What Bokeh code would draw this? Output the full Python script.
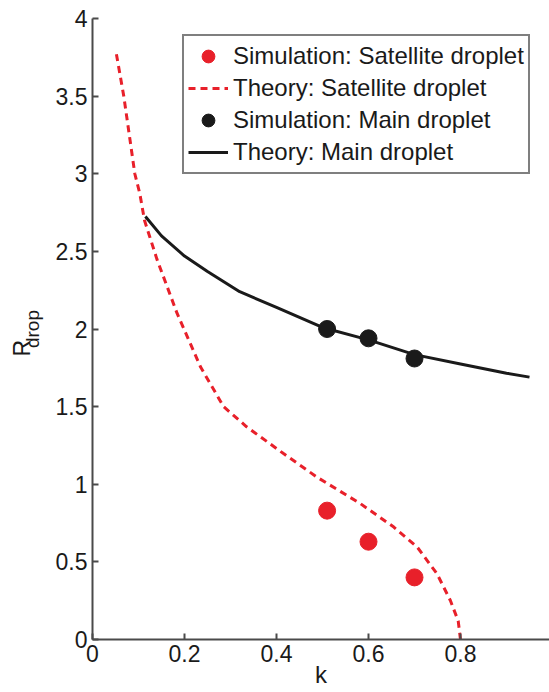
from bokeh.plotting import figure
from bokeh.models import Legend, LegendItem, Title, FixedTicker, Range1d
from bokeh.embed import file_html
from bokeh.resources import INLINE

# ---------------- data ----------------
sim_k = [0.51, 0.60, 0.70]
sat_sim_R = [0.83, 0.63, 0.40]
main_sim_R = [2.00, 1.94, 1.81]

main_theory_k = [0.115, 0.15, 0.20, 0.25, 0.32, 0.40, 0.50, 0.60, 0.70, 0.80, 0.90, 0.95]
main_theory_R = [2.725, 2.60, 2.47, 2.37, 2.24, 2.14, 2.01, 1.93, 1.835, 1.775, 1.715, 1.69]

sat_theory_k = [0.052, 0.068, 0.080, 0.092, 0.103, 0.113, 0.140, 0.184, 0.235, 0.285,
                0.335, 0.416, 0.488, 0.583, 0.655, 0.706, 0.749, 0.778, 0.795, 0.800]
sat_theory_R = [3.77, 3.50, 3.25, 3.00, 2.87, 2.70, 2.45, 2.10, 1.755, 1.50,
                1.37, 1.196, 1.046, 0.874, 0.724, 0.595, 0.423, 0.251, 0.12, 0.0]

x_ticks = [0, 0.2, 0.4, 0.6, 0.8, 1.0]
x_tick_labels = ["0", "0.2", "0.4", "0.6", "0.8", "1"]
y_ticks = [0, 0.5, 1, 1.5, 2, 2.5, 3, 3.5, 4]
y_tick_labels = ["0", "0.5", "1", "1.5", "2", "2.5", "3", "3.5", "4"]

labels = ["Simulation: Satellite droplet", "Theory: Satellite droplet",
          "Simulation: Main droplet", "Theory: Main droplet"]

# ---------------- layout ----------------
W, H = 549, 692
LEFT, TOP, BOTTOM = 92, 18, 53
PX_PER_K = 460.0
FONT = "Liberation Sans"
RED = "#e8202a"
BLACK = "#1a1a1a"
AXIS = "#4a4a4a"

p = figure(width=W, height=H, output_backend="svg", toolbar_location=None,
           x_range=Range1d(0, (W - LEFT) / PX_PER_K), y_range=Range1d(0, 4),
           min_border_left=LEFT, min_border_right=0,
           min_border_top=TOP, min_border_bottom=BOTTOM)
p.outline_line_color = None
p.grid.visible = False
p.background_fill_color = "white"
p.border_fill_color = "white"

for ax, ticks, tlabels in ((p.xaxis, x_ticks, x_tick_labels), (p.yaxis, y_ticks, y_tick_labels)):
    ax.ticker = FixedTicker(ticks=ticks)
    ax.major_label_overrides = {t: l for t, l in zip(ticks, tlabels)}
    ax.minor_tick_line_color = None
    ax.major_tick_in = 6
    ax.major_tick_out = 0
    ax.axis_line_color = AXIS
    ax.axis_line_width = 2
    ax.major_tick_line_color = AXIS
    ax.major_tick_line_width = 2
    ax.major_label_text_font = FONT
    ax.major_label_text_font_size = "23px"
    ax.major_label_text_color = BLACK
    ax.axis_label_text_font = FONT
    ax.axis_label_text_font_style = "normal"
    ax.axis_label_text_color = BLACK
p.xaxis.major_label_standoff = 5
p.yaxis.major_label_standoff = 5

# x title
p.xaxis.axis_label = "k"
p.xaxis.axis_label_text_font_size = "24px"
p.xaxis.axis_label_standoff = -4

# y title: R with subscript "drop"
p.yaxis.axis_label = "drop"
p.yaxis.axis_label_text_font_size = "19px"
p.yaxis.axis_label_standoff = 10

r_title = Title(text="R", align="left", vertical_align="bottom", offset=283,
                standoff=-32, text_font=FONT, text_font_size="23px",
                text_font_style="normal", text_color=BLACK)
p.add_layout(r_title, "left")

# ---------------- glyphs ----------------
r_sat_line = p.line(sat_theory_k, sat_theory_R, line_color=RED, line_width=3,
                    line_dash="7 5")
r_main_line = p.line(main_theory_k, main_theory_R, line_color=BLACK, line_width=3)
r_sat_sim = p.scatter(sim_k, sat_sim_R, size=17, fill_color=RED, line_color=RED)
r_main_sim = p.scatter(sim_k, main_sim_R, size=17, fill_color=BLACK, line_color=BLACK)

legend = Legend(items=[
    LegendItem(label=labels[0], renderers=[r_sat_sim]),
    LegendItem(label=labels[1], renderers=[r_sat_line]),
    LegendItem(label=labels[2], renderers=[r_main_sim]),
    LegendItem(label=labels[3], renderers=[r_main_line]),
])
legend.location = (90, 465)
legend.margin = 0
legend.padding = 4
legend.spacing = 0
legend.glyph_width = 40
legend.glyph_height = 32
legend.label_height = 32
legend.label_standoff = 5
legend.label_text_font = FONT
legend.label_text_font_size = "24px"
legend.label_text_color = BLACK
legend.border_line_color = "black"
legend.border_line_width = 2
legend.background_fill_color = "white"
legend.background_fill_alpha = 1.0
p.add_layout(legend)

open("out.html", "w").write(file_html(p, INLINE))
